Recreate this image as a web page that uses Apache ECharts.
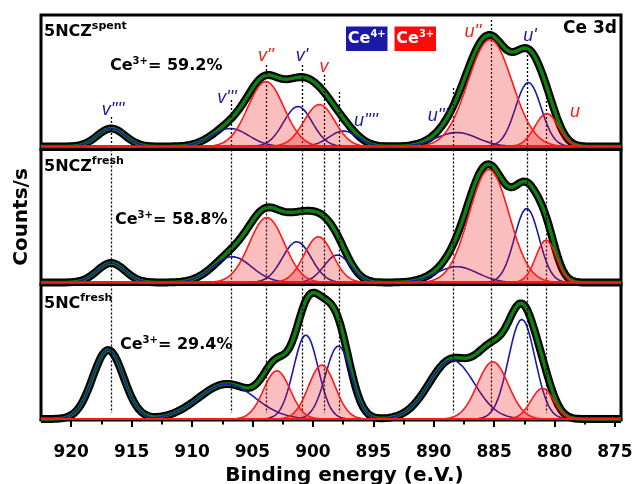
<!DOCTYPE html>
<html><head><meta charset="utf-8">
<script src="https://cdn.jsdelivr.net/npm/echarts@6/dist/echarts.min.js"></script>
<style>html,body{margin:0;padding:0;background:#fff}#c{width:634px;height:484px}</style>
</head><body><div id="c"></div><script>
// ---- data ----
const peakNames = ["v''''", "v'''", "v''", "v'", "v", "u''''", "u'''", "u''", "u'", "u"];
const peakState = ['Ce4+', 'Ce4+', 'Ce3+', 'Ce4+', 'Ce3+', 'Ce4+', 'Ce4+', 'Ce3+', 'Ce4+', 'Ce3+'];
const samples = ['5NCZ|spent', '5NCZ|fresh', '5NC|fresh'];
const ce3Share = ['59.2%', '58.8%', '29.4%'];

// peak centres (eV), heights (counts, arb.) and FWHM (eV) per sample
const centersSpent = [916.69, 906.84, 903.89, 901.24, 899.46, 897.47, 888.09, 885.34, 882.17, 880.65];
const heightsSpent = [18, 18, 65, 40, 42, 15.5, 14, 107, 64, 33];
const fwhmSpent    = [2.7, 3.6, 3.5, 2.8, 3.0, 2.8, 4.0, 4.3, 2.5, 2.3];

const centersFresh = [916.7, 906.68, 903.81, 901.33, 899.54, 897.97, 888.09, 885.42, 882.3, 880.7];
const heightsFresh = [19.5, 25.8, 65, 40.8, 45.8, 27.5, 15.8, 113, 74, 42.5];
const fwhmFresh    = [2.7, 3.8, 3.4, 2.8, 2.8, 2.6, 4.0, 3.9, 2.4, 2.0];

const centersNC = [916.94, 907.12, 902.98, 900.58, 899.26, 897.89, 888.51, 885.11, 882.71, 881.0];
const heightsNC = [69, 35, 48.3, 84, 54, 73, 59, 57.3, 99.7, 30.7];
const fwhmNC    = [3.0, 5.5, 2.6, 2.4, 2.6, 2.5, 4.4, 3.0, 2.6, 2.2];

// reference (dotted) peak positions and where they start in the top panel
const dottedLines = [916.69, 906.79, 903.89, 900.86, 899.07, 897.80, 888.42, 885.26, 882.25, 880.7];
const dottedTopStart = [29.5, 46.5, 81.5, 81.5, 71.5, 54.5, 58.5, 126.5, 91.5, 49.5];

const xMajorTicks = [875, 880, 885, 890, 895, 900, 905, 910, 915, 920];
const xMinorTicks = [877.5, 882.5, 887.5, 892.5, 897.5, 902.5, 907.5, 912.5, 917.5];
const X_MIN = 874.5, X_MAX = 922.5;

// ---- layout ----
const panelTop = [15, 149.5, 284.5];
const panelH = [134.5, 135, 135.5];
const yMin = [-3, -2, -1];
const yMax = [131.5, 133, 134.5];

const BLUE = '#1a1aa6', RED = '#ff1a1a', GREEN = '#0f7f0f';

const xs = [];
for (let i = 0; i <= 480; i++) xs.push(+(X_MIN + i * 0.1).toFixed(1));
function gauss(c, h, w) {
  const k = 4 * Math.LN2 / (w * w);
  return xs.map(x => h * Math.exp(-k * (x - c) * (x - c)));
}

const panels = [
  [centersSpent, heightsSpent, fwhmSpent],
  [centersFresh, heightsFresh, fwhmFresh],
  [centersNC, heightsNC, fwhmNC]
];

const grid = [], xAxis = [], yAxis = [], series = [];
panels.forEach((p, gi) => {
  grid.push({ left: 41, right: 13, top: panelTop[gi], height: panelH[gi], show: true,
    containLabel: false, outerBoundsMode: 'none',
    borderColor: '#000', borderWidth: 3, backgroundColor: 'transparent' });
  const isBottom = gi === 2;
  xAxis.push({ type: 'value', gridIndex: gi, min: X_MIN, max: X_MAX, inverse: true,
    position: 'bottom', offset: 0,
    show: isBottom,
    splitLine: { show: false },
    axisLine: { show: isBottom, lineStyle: { color: '#000', width: 3 } },
    axisTick: { show: isBottom, customValues: xMajorTicks, length: 8, lineStyle: { color: '#000', width: 2 } },
    axisLabel: { show: isBottom, customValues: xMajorTicks, margin: 24, color: '#000',
      fontFamily: 'DejaVu Sans', fontWeight: 'bold', fontSize: 17 },
    name: isBottom ? 'Binding energy (e.V.)' : '', nameLocation: 'middle', nameGap: 46,
    nameTextStyle: { fontFamily: 'DejaVu Sans', fontWeight: 'bold', fontSize: 20, color: '#000', padding: [0, 0, 0, 27] }
  });
  yAxis.push({ type: 'value', gridIndex: gi, min: yMin[gi], max: yMax[gi],
    show: gi === 1,
    axisLine: { show: false }, axisTick: { show: false }, axisLabel: { show: false }, splitLine: { show: false },
    name: gi === 1 ? 'Counts/s' : '', nameLocation: 'middle', nameGap: 9,
    nameTextStyle: { fontFamily: 'DejaVu Sans', fontWeight: 'bold', fontSize: 20, color: '#000' }
  });

  const comps = p[0].map((c, i) => gauss(c, p[1][i], p[2][i]));
  const env = xs.map((x, j) => comps.reduce((s, cc) => s + cc[j], 0));
  const pairs = arr => xs.map((x, j) => [x, arr[j]]);

  series.push({ name: 'data', type: 'line', xAxisIndex: gi, yAxisIndex: gi, data: pairs(env),
    symbol: 'none', silent: true, z: 2, lineStyle: { color: '#000', width: 8 } });
  series.push({ name: 'fit', type: 'line', xAxisIndex: gi, yAxisIndex: gi, data: pairs(env),
    symbol: 'none', silent: true, z: 3, lineStyle: { color: GREEN, width: 3.5 } });
  comps.forEach((cc, i) => {
    const ce3 = peakState[i] === 'Ce3+';
    series.push({ name: peakNames[i], type: 'line', xAxisIndex: gi, yAxisIndex: gi, data: pairs(cc),
      symbol: 'none', silent: true, z: ce3 ? 5 : 4,
      lineStyle: { color: ce3 ? RED : BLUE, width: 1.6 },
      areaStyle: ce3 ? { color: 'rgba(240,20,20,0.4)' } : undefined });
  });
  const lines = dottedLines.map((x, i) => {
    const y1 = gi === 0 ? dottedTopStart[i] : yMax[gi];
    const y2 = gi === 2 ? 6 : yMin[gi];
    return [{ coord: [x, y1] }, { coord: [x, y2] }];
  });
  series.push({ name: 'ref', type: 'line', xAxisIndex: gi, yAxisIndex: gi, data: [[X_MIN, 0]],
    symbol: 'none', silent: true, z: 6, lineStyle: { width: 0 },
    markLine: { silent: true, symbol: ['none', 'none'], label: { show: false },
      lineStyle: { color: '#000', type: [2, 2], width: 1.3 }, data: lines } });
});
// minor ticks
xAxis.push({ type: 'value', gridIndex: 2, min: X_MIN, max: X_MAX, inverse: true, position: 'bottom', offset: 0,
  splitLine: { show: false }, axisLine: { show: false }, axisLabel: { show: false },
  axisTick: { show: true, customValues: xMinorTicks, length: 4.5, lineStyle: { color: '#000', width: 2 } } });

// ---- text annotations ----
const bold = 'DejaVu Sans';
const graphic = [];
const namePos = [[44, 32], [44, 167], [44, 304]];
samples.forEach((s, i) => {
  const [base, sup] = s.split('|');
  graphic.push({ type: 'text', x: namePos[i][0], y: namePos[i][1], z: 50,
    style: { text: '{a|' + base + '}{s|' + sup + '}', verticalAlign: 'middle', align: 'left',
      rich: { a: { fontFamily: bold, fontWeight: 'bold', fontSize: 16, lineHeight: 22, fill: '#000' },
              s: { fontFamily: bold, fontWeight: 'bold', fontSize: 11, lineHeight: 9, verticalAlign: 'top', fill: '#000' } } } });
});
const sharePos = [[110, 66], [115, 220], [120, 345]];
ce3Share.forEach((v, i) => {
  graphic.push({ type: 'text', x: sharePos[i][0], y: sharePos[i][1], z: 50,
    style: { text: '{a|Ce}{s|3+}{a|= ' + v + '}', verticalAlign: 'middle', align: 'left',
      rich: { a: { fontFamily: bold, fontWeight: 'bold', fontSize: 16, lineHeight: 20, fill: '#000' },
              s: { fontFamily: bold, fontWeight: 'bold', fontSize: 10, lineHeight: 10, verticalAlign: 'top', fill: '#000' } } } });
});
graphic.push({ type: 'text', x: 617, y: 29, z: 50,
  style: { text: 'Ce 3d', align: 'right', verticalAlign: 'middle', fontFamily: bold, fontWeight: 'bold', fontSize: 17, fill: '#000' } });
// legend boxes
[['4+', BLUE, 346], ['3+', '#ff0a0a', 394.5]].forEach(([sup, col, x0]) => {
  graphic.push({ type: 'rect', z: 50, shape: { x: x0, y: 26.5, width: 41.5, height: 24.5 }, style: { fill: col } });
  graphic.push({ type: 'text', x: x0 + 20.75, y: 39, z: 51,
    style: { text: '{a|Ce}{s|' + sup + '}', align: 'center', verticalAlign: 'middle',
      rich: { a: { fontFamily: bold, fontWeight: 'bold', fontSize: 16, lineHeight: 20, fill: '#fff' },
              s: { fontFamily: bold, fontWeight: 'bold', fontSize: 10, lineHeight: 10, verticalAlign: 'top', fill: '#fff' } } } });
});
// peak labels (top panel)
const labelPos = [[113, 109.5], [227, 98], [266, 55.5], [302, 55.5], [324, 66.5], [366, 120.5], [438, 115.5], [473, 31.5], [530, 35.5], [575, 111.5]];
peakNames.forEach((n, i) => {
  graphic.push({ type: 'text', x: labelPos[i][0], y: labelPos[i][1], z: 50,
    style: { text: n, align: 'center', verticalAlign: 'middle', font: 'italic 18px "Liberation Sans", Arial',
      fill: peakState[i] === 'Ce3+' ? RED : BLUE } });
});

const chart = echarts.init(document.getElementById('c'));
chart.setOption({ animation: false, backgroundColor: '#fff', grid, xAxis, yAxis, series, graphic });
</script></body></html>
